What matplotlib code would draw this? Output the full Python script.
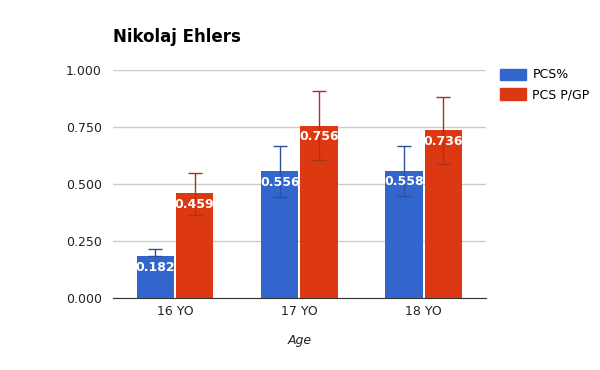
import matplotlib
matplotlib.use("Agg")
import matplotlib.pyplot as plt
import numpy as np

ages = ["16 YO", "17 YO", "18 YO"]
pcs_pct = [0.182, 0.556, 0.558]
pcs_pct_lo = [0.182, 0.444, 0.447]
pcs_pct_hi = [0.215, 0.665, 0.668]
pcs_pgp = [0.459, 0.756, 0.736]
pcs_pgp_lo = [0.365, 0.605, 0.588]
pcs_pgp_hi = [0.548, 0.908, 0.883]
yticks = [0.0, 0.25, 0.5, 0.75, 1.0]

BLUE = "#3366CC"
RED = "#DC3912"

fig = plt.figure(figsize=(6, 3.7), dpi=100)
ax = fig.add_axes([0.188, 0.195, 0.622, 0.616])

x = np.arange(len(ages))
w = 0.3
gap = 0.008
xb = x - w / 2 - gap
xr = x + w / 2 + gap

ax.bar(xb, pcs_pct, width=w, color=BLUE, zorder=2)
ax.bar(xr, pcs_pgp, width=w, color=RED, zorder=2)

def errs(vals, lo, hi):
    return [np.array(vals) - np.array(lo), np.array(hi) - np.array(vals)]

ax.errorbar(xb, pcs_pct, yerr=errs(pcs_pct, pcs_pct_lo, pcs_pct_hi), fmt="none",
            ecolor="#2d4f9e", elinewidth=1, capsize=5, capthick=1, zorder=3)
ax.errorbar(xr, pcs_pgp, yerr=errs(pcs_pgp, pcs_pgp_lo, pcs_pgp_hi), fmt="none",
            ecolor="#a8321c", elinewidth=1, capsize=5, capthick=1, zorder=3)

for xi, v in zip(xb, pcs_pct):
    ax.text(xi, v - 0.02, f"{v:.3f}", ha="center", va="top", color="white",
            fontsize=9, fontweight="bold", zorder=4)
for xi, v in zip(xr, pcs_pgp):
    ax.text(xi, v - 0.02, f"{v:.3f}", ha="center", va="top", color="white",
            fontsize=9, fontweight="bold", zorder=4)

ax.set_xlim(-0.5, 2.5)
ax.set_ylim(0, 1.0)
ax.set_yticks(yticks)
ax.set_yticklabels([f"{t:.3f}" for t in yticks])
ax.set_xticks(x)
ax.set_xticklabels(ages)
ax.tick_params(axis="y", length=0, labelsize=9, labelcolor="#222222", pad=8)
ax.tick_params(axis="x", length=0, labelsize=9, labelcolor="#222222", pad=5)
ax.yaxis.grid(True, color="#cccccc", linewidth=1, zorder=0)
ax.set_axisbelow(True)
for s in ["top", "right", "left"]:
    ax.spines[s].set_visible(False)
ax.spines["bottom"].set_color("#333333")
ax.spines["bottom"].set_zorder(5)

ax.set_xlabel("Age", fontstyle="italic", fontsize=9, color="#222222", labelpad=12)
fig.text(0.188, 0.875, "Nikolaj Ehlers", fontsize=12, fontweight="bold", va="bottom")

handles = [plt.Rectangle((0, 0), 1, 1, color=BLUE), plt.Rectangle((0, 0), 1, 1, color=RED)]
fig.legend(handles, ["PCS%", "PCS P/GP"], loc="upper left", bbox_to_anchor=(0.833, 0.815),
           frameon=False, fontsize=9, handlelength=2.1, handleheight=1.0,
           handletextpad=0.5, labelspacing=0.55, borderpad=0, borderaxespad=0)

fig.savefig("out.png", dpi=100)
